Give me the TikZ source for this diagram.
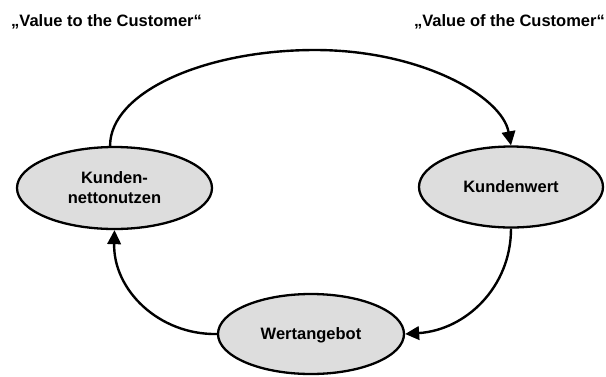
\documentclass[tikz,border=0pt]{standalone}
\usepackage{fontspec}
\setmainfont{Liberation Sans}
\usetikzlibrary{shapes.geometric,arrows.meta}
\definecolor{ovalfill}{RGB}{221,221,221}
\begin{document}
\begin{tikzpicture}[x=1pt,y=-1pt,
  oval/.style={ellipse, draw=black, line width=2.3pt, fill=ovalfill, inner sep=0pt,
    font=\fontsize{16.5}{20}\selectfont\bfseries, align=center},
  conn/.style={line width=2.4pt, -{Triangle[length=14pt,width=13.5pt]}},
  heading/.style={font=\fontsize{16.5}{20}\selectfont\bfseries, inner sep=0pt}]
\useasboundingbox (0,0) rectangle (606,376);

% headings
\node[heading, anchor=base west] (vto) at (11,26) {„Value to the Customer“};
\node[heading, anchor=base east] (vof) at (605,26) {„Value of the Customer“};

% the three value ovals
\node[oval, minimum width=195pt, minimum height=82pt] (kn) at (114.5,188) {Kunden-\\nettonutzen};
\node[oval, minimum width=184pt, minimum height=81pt] (kw) at (511,187) {Kundenwert};
\node[oval, minimum width=186pt, minimum height=80pt, text depth=0pt] (wa) at (311,334) {Wertangebot};

% cycle of arrows
\draw[conn] (kn.96) .. controls (110,92) and (205,50) .. (315,50)
                    .. controls (420,50) and (502,96) .. (kw.north);
\draw[conn] (kw.south) .. controls (511,287) and (466,330) .. (wa.east);
\draw[conn] (wa.west) .. controls (159,335) and (113,290) .. (kn.south);
\end{tikzpicture}
\end{document}
